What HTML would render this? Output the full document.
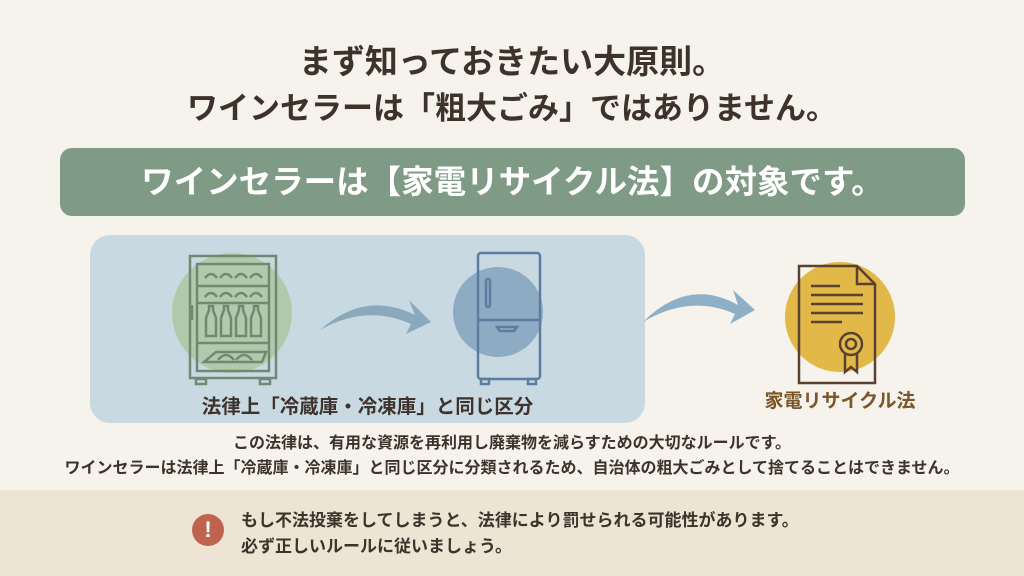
<!DOCTYPE html><html><head><meta charset="utf-8"><style>
body{margin:0;width:1024px;height:576px;background:#f6f3ec;font-family:"Liberation Sans","Noto Sans CJK JP",sans-serif;position:relative;overflow:hidden;color:#3d332c}
.a{position:absolute}
.t{left:0;width:1024px;text-align:center;font-weight:bold}
</style></head><body>
<div class="a t" style="top:35px;font-size:33px">まず知っておきたい大原則。</div>
<div class="a t" style="top:83px;font-size:31px">ワインセラーは「粗大ごみ」ではありません。</div>
<div class="a" style="left:60px;top:148px;width:905px;height:68px;background:#7f9a85;border-radius:12px;color:#fff;font-size:32.5px;font-weight:bold;text-align:center;line-height:68px">ワインセラーは【家電リサイクル法】の対象です。</div>
<div class="a" style="left:90px;top:235px;width:555px;height:188px;background:#c9d9e2;border-radius:20px"></div>
<svg class="a" style="left:0;top:0" width="1024" height="576">
<circle cx="232" cy="313" r="60" fill="#a9c49a" opacity=".75"/>
<circle cx="498" cy="312" r="45" fill="#7f9fbd" opacity=".8"/>
<circle cx="840" cy="317" r="55" fill="#e2b848"/>
<g fill="none" stroke="#6f8a72" stroke-width="2.5">
<rect x="190" y="256" width="86" height="122"/><rect x="197" y="264" width="72" height="107"/>
<line x1="197" y1="286" x2="269" y2="286"/><line x1="197" y1="303" x2="269" y2="303"/><line x1="197" y1="343" x2="269" y2="343"/>
<path d="M205 278q6-8 12 0M220 278q6-8 12 0M235 278q6-8 12 0M250 278q6-8 12 0M205 297q6-8 12 0M220 297q6-8 12 0M235 297q6-8 12 0M250 297q6-8 12 0"/>
<path d="M206 336v-18l3-8v-4h4v4l3 8v18zM221 336v-18l3-8v-4h4v4l3 8v18zM236 336v-18l3-8v-4h4v4l3 8v18zM251 336v-18l3-8v-4h4v4l3 8v18z"/>
<path d="M204 362l12-10h50l-4 10z"/><path d="M218 360q8-10 16 0M236 360q8-10 16 0"/>
<line x1="192" y1="305" x2="192" y2="320"/><rect x="196" y="379" width="10" height="5"/><rect x="260" y="379" width="10" height="5"/>
</g>
<g fill="none" stroke="#5b7ea0" stroke-width="2.5">
<rect x="478" y="253" width="62" height="126" rx="3"/><line x1="478" y1="320" x2="540" y2="320"/>
<rect x="486" y="279" width="4" height="28" rx="2"/><path d="M497 327h20l-3 4h-14z"/>
<rect x="481" y="379" width="8" height="5"/><rect x="528" y="379" width="8" height="5"/>
</g>
<path d="M320 330q45-40 95-15l-6-15 22 22-25 12 5-10q-45-20-91 6z" fill="#8aa9bd"/>
<path d="M643 322q45-45 95-17l-5-15 22 20-25 14 5-10q-45-20-92 8z" fill="#8eb0c6"/>
<g fill="none" stroke="#5a4232" stroke-width="2.5">
<path d="M799 266h58l18 18v99h-76z"/><path d="M857 266v18h18"/>
<line x1="811" y1="286" x2="840" y2="286"/><line x1="811" y1="295" x2="863" y2="295"/><line x1="811" y1="304" x2="863" y2="304"/><line x1="811" y1="313" x2="863" y2="313"/><line x1="811" y1="322" x2="842" y2="322"/>
<circle cx="851" cy="344" r="11"/><circle cx="851" cy="344" r="5"/><path d="M845 354v18l6-5 6 5v-18"/>
</g>
</svg>
<div class="a" style="left:90px;width:555px;top:390px;text-align:center;font-size:19.5px;font-weight:bold">法律上「冷蔵庫・冷凍庫」と同じ区分</div>
<div class="a" style="left:740px;width:200px;top:386px;text-align:center;font-size:19px;font-weight:bold;color:#7a5628">家電リサイクル法</div>
<div class="a" style="left:0;width:1024px;top:431px;text-align:center;font-size:16px;font-weight:bold;line-height:25px">この法律は、有用な資源を再利用し廃棄物を減らすための大切なルールです。<br>ワインセラーは法律上「冷蔵庫・冷凍庫」と同じ区分に分類されるため、自治体の粗大ごみとして捨てることはできません。</div>
<div class="a" style="left:0;top:490px;width:1024px;height:86px;background:#ede4d3"></div>
<div class="a" style="left:192px;top:514px;width:32px;height:32px;border-radius:50%;background:#bf634f;color:#fff;font-weight:bold;font-size:22px;text-align:center;line-height:32px">!</div>
<div class="a" style="left:241px;top:508px;font-size:17px;font-weight:bold;line-height:26px">もし不法投棄をしてしまうと、法律により罰せられる可能性があります。<br>必ず正しいルールに従いましょう。</div>
</body></html>
